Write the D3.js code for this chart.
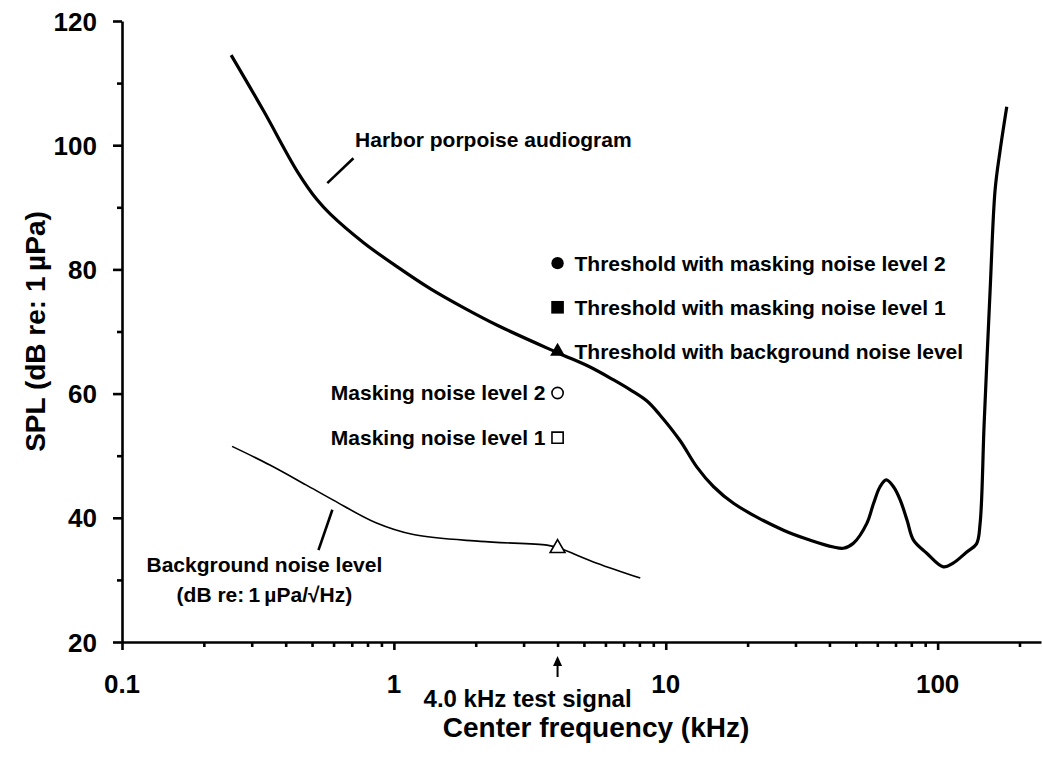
<!DOCTYPE html>
<html>
<head>
<meta charset="utf-8">
<script src="https://cdn.jsdelivr.net/npm/d3@7"></script>
<style>
  html, body { margin: 0; padding: 0; background: #fff; }
  text { font-family: "Liberation Sans", Arial, sans-serif; font-weight: bold; fill: #000; }
</style>
</head>
<body>
<svg id="chart" width="1042" height="762"></svg>
<script>
// ---------------- data ----------------
const audiogramFreq = [0.252, 0.332, 0.441, 0.522, 0.584, 0.774, 1.03, 1.36, 1.81, 2.40, 4.04, 5.2, 6.43, 7.41, 8.53, 9.5, 11.3, 13.0, 15.0, 17.8, 27.1, 34.0, 41.4, 45.0, 49.0, 54.9, 58.1, 61.4, 64.7, 68.8, 72.8, 77.2, 81.5, 91.2, 105, 114, 128, 139, 143.3, 148.3, 156, 162.7, 169.8, 179.6];
const audiogramSPL  = [114.5, 105.5, 95.8, 91.2, 88.9, 84.3, 80.4, 76.9, 73.8, 71.0, 66.5, 64.4, 62.2, 60.6, 58.8, 56.6, 52.4, 48.2, 45.0, 42.3, 38.0, 36.4, 35.3, 35.1, 35.9, 39.1, 42.3, 45.0, 46.1, 45.0, 42.9, 39.6, 36.4, 34.3, 32.1, 32.7, 34.5, 35.8, 39.1, 55.2, 76.7, 92.8, 99.2, 106.2];

const noiseFreq = [0.254, 0.35, 0.475, 0.601, 0.859, 1.18, 2.08, 3.66, 4.0, 5.58, 8.06];
const noiseSPL  = [51.5, 48.5, 45.3, 42.8, 39.2, 37.3, 36.2, 35.6, 35.2, 32.7, 30.3];

const testFreq = 4.0;
const markerNames  = ["thrMask2", "thrMask1", "thrBackground", "mask2", "mask1", "background"];
const markerSPL    = [81.0, 73.9, 66.8, 60.1, 52.9, 35.1];
const markerShape  = ["circle", "square", "triangle", "circle", "square", "triangle"];
const markerFilled = [true, true, true, false, false, false];

const thresholdLabels = ["Threshold with masking noise level 2", "Threshold with masking noise level 1", "Threshold with background noise level"];
const maskingLabels   = ["Masking noise level 2", "Masking noise level 1"];

const xMajorTicks = [0.1, 1, 10, 100];
const xMajorLabels = ["0.1", "1", "10", "100"];
const xMinorTicks = [0.2,0.3,0.4,0.5,0.6,0.7,0.8,0.9, 2,3,4,5,6,7,8,9, 20,30,40,50,60,70,80,90, 200];
const yMajorTicks = [20, 40, 60, 80, 100, 120];
const yMinorTicks = [30, 50, 70, 90, 110];

// ---------------- scales ----------------
const svg = d3.select("#chart");
const x = d3.scaleLog().domain([0.1, 240]).range([122, 1041]);
const y = d3.scaleLinear().domain([20, 120]).range([642, 21]);

// ---------------- axes ----------------
const axisColor = "#000";
const gx = svg.append("g").attr("transform", `translate(0,${y(20)})`);
gx.call(d3.axisBottom(x).tickValues(xMajorTicks).tickSize(8).tickSizeOuter(0).tickFormat(""));
gx.append("g").call(d3.axisBottom(x).tickValues(xMinorTicks).tickSize(5).tickSizeOuter(0).tickFormat(""))
  .select(".domain").remove();
gx.selectAll("path, line").attr("stroke", axisColor).attr("stroke-width", 2.6);

const gy = svg.append("g").attr("transform", `translate(${x(0.1)},0)`);
gy.call(d3.axisLeft(y).tickValues(yMajorTicks).tickSize(9).tickSizeOuter(0).tickFormat(""));
gy.append("g").call(d3.axisLeft(y).tickValues(yMinorTicks).tickSize(5).tickSizeOuter(0).tickFormat(""))
  .select(".domain").remove();
gy.selectAll("path, line").attr("stroke", axisColor).attr("stroke-width", 2.6);

// tick labels
svg.append("g").selectAll("text").data(xMajorTicks).join("text")
  .attr("x", d => x(d)).attr("y", y(20) + 51)
  .attr("text-anchor", "middle").attr("font-size", 26)
  .text((d, i) => xMajorLabels[i]);
svg.append("g").selectAll("text").data(yMajorTicks).join("text")
  .attr("x", x(0.1) - 25).attr("y", d => y(d) + 9.5)
  .attr("text-anchor", "end").attr("font-size", 26)
  .text(d => d);

// axis titles
svg.append("text").attr("x", 596).attr("y", 737).attr("text-anchor", "middle")
  .attr("font-size", 28).text("Center frequency (kHz)");
svg.append("text").attr("transform", `translate(45,${(y(20) + y(120)) / 2}) rotate(-90)`)
  .attr("text-anchor", "middle").attr("font-size", 28).text("SPL (dB re: 1\u2009µPa)");

// ---------------- lines ----------------
const line = d3.line().x(d => x(d[0])).y(d => y(d[1])).curve(d3.curveCatmullRom.alpha(0.5));
svg.append("path").datum(noiseFreq.map((f, i) => [f, noiseSPL[i]]))
  .attr("d", line).attr("fill", "none").attr("stroke", "#000").attr("stroke-width", 1.6);
svg.append("path").datum(audiogramFreq.map((f, i) => [f, audiogramSPL[i]]))
  .attr("d", line).attr("fill", "none").attr("stroke", "#000").attr("stroke-width", 3.2)
  .attr("stroke-linejoin", "round");

// ---------------- markers ----------------
const symType = { circle: d3.symbolCircle, square: d3.symbolSquare, triangle: d3.symbolTriangle };
const symSize = { circle: [120, 100], square: [160, 125], triangle: [95, 95] };
svg.append("g").selectAll("path").data(markerSPL).join("path")
  .attr("transform", d => `translate(${x(testFreq)},${y(d)})`)
  .attr("d", (d, i) => d3.symbol().type(symType[markerShape[i]]).size(symSize[markerShape[i]][markerFilled[i] ? 0 : 1])())
  .attr("fill", (d, i) => markerFilled[i] ? "#000" : "#fff")
  .attr("stroke", "#000")
  .attr("stroke-width", (d, i) => markerFilled[i] ? 0 : 1.6);

// ---------------- annotations ----------------
const ann = svg.append("g").attr("font-size", 21);
thresholdLabels.forEach((t, i) => {
  ann.append("text").attr("x", x(testFreq) + 17).attr("y", y(markerSPL[i]) + 7.5).text(t);
});
maskingLabels.forEach((t, i) => {
  ann.append("text").attr("x", x(testFreq) - 12).attr("y", y(markerSPL[i + 3]) + 7.5)
    .attr("text-anchor", "end").text(t);
});

// Harbor porpoise audiogram label + leader
const harborLeader = [[0.569, 93.9], [0.710, 97.9]];
svg.append("line").attr("x1", x(harborLeader[0][0])).attr("y1", y(harborLeader[0][1]))
  .attr("x2", x(harborLeader[1][0])).attr("y2", y(harborLeader[1][1]))
  .attr("stroke", "#000").attr("stroke-width", 2.6);
ann.append("text").attr("x", x(0.72)).attr("y", y(99.7)).text("Harbor porpoise audiogram");

// Background noise label + leader
const bgLeader = [[0.594, 41.3], [0.528, 34.8]];
svg.append("line").attr("x1", x(bgLeader[0][0])).attr("y1", y(bgLeader[0][1]))
  .attr("x2", x(bgLeader[1][0])).attr("y2", y(bgLeader[1][1]))
  .attr("stroke", "#000").attr("stroke-width", 2.6);
ann.append("text").attr("x", x(0.334)).attr("y", y(31.2)).attr("text-anchor", "middle").text("Background noise level");
ann.append("text").attr("x", x(0.334)).attr("y", y(26.4)).attr("text-anchor", "middle").text("(dB re:\u20091\u2009µPa/√Hz)");

// test-signal arrow
const ax = x(testFreq);
svg.append("line").attr("x1", ax).attr("x2", ax).attr("y1", y(20) + 22).attr("y2", y(20) + 35)
  .attr("stroke", "#000").attr("stroke-width", 2);
svg.append("path")
  .attr("d", `M${ax},${y(20) + 14} L${ax - 4.5},${y(20) + 24} L${ax + 4.5},${y(20) + 24} Z`)
  .attr("fill", "#000");
svg.append("text").attr("x", ax - 134).attr("y", y(20) + 65).attr("font-size", 24)
  .text("4.0 kHz test signal");
</script>
</body>
</html>
